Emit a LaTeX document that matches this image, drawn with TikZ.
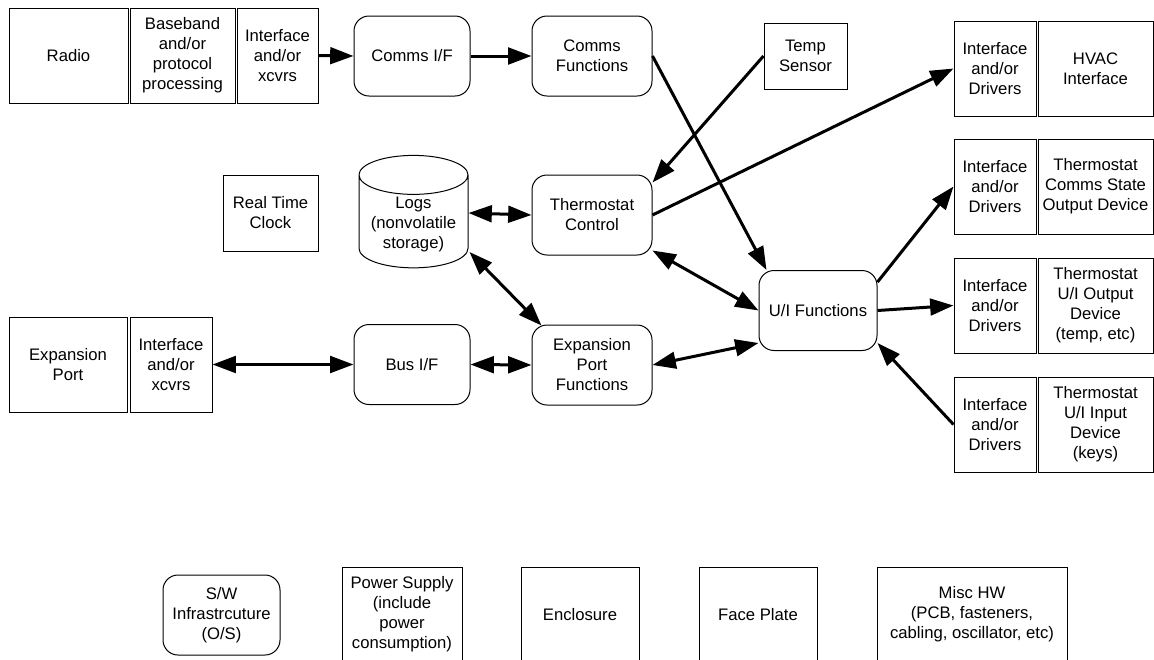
\documentclass[tikz,border=0pt]{standalone}
\usepackage{fontspec}
\setmainfont{Liberation Sans}
\usetikzlibrary{arrows.meta,shapes.geometric,calc}

\begin{document}
\begin{tikzpicture}[x=0.6pt,y=-0.6pt,
  font=\fontsize{10}{12}\selectfont,
  blk/.style={draw,line width=0.6pt,align=center,inner sep=1pt},
  fn/.style={blk,rounded corners=9pt,minimum width=72pt,minimum height=48pt},
  drv/.style={blk,minimum width=49.2pt,minimum height=57pt},
  dev/.style={blk,minimum width=69pt,minimum height=57pt},
  hw/.style={blk,minimum width=70.8pt,minimum height=57pt},
  link/.style={line width=1.8pt,-{Triangle[length=14pt,width=10pt]}},
  link2/.style={line width=1.8pt,{Triangle[length=14pt,width=10pt]}-{Triangle[length=14pt,width=10pt]}}]
\useasboundingbox (0,0) rectangle (1154,659);

% radio side
\node[blk,minimum width=71.4pt,minimum height=57pt] (radio) at (68.5,55.5) {Radio};
\node[blk,minimum width=63pt,minimum height=57pt] (baseband) at (182.5,55.5) {Baseband\\and/or\\protocol\\processing};
\node[drv,minimum width=48.6pt] (ifradio) at (277.5,55.5) {Interface\\and/or\\xcvrs};
\node[fn,minimum width=69.6pt] (commsif) at (412,56) {Comms I/F};
\node[fn] (commsfn) at (592,56) {Comms\\Functions};
\node[blk,minimum width=49.8pt,minimum height=39.6pt] (temp) at (805.5,56) {Temp\\Sensor};

% middle
\node[blk,minimum width=57pt,minimum height=45.6pt] (rtc) at (270.5,213) {Real Time\\Clock};
\node[blk,cylinder,shape border rotate=90,aspect=0.44,minimum width=65.4pt,minimum height=58.2pt] (logs) at (413.5,224) {Logs\\(nonvolatile\\storage)};
\node[fn] (tctrl) at (592,215) {Thermostat\\Control};
\node[fn,minimum width=70.8pt] (ui) at (818,310.5) {U/I Functions};

% expansion side
\node[blk,minimum width=70.8pt,minimum height=57pt] (expport) at (68,364.5) {Expansion\\Port};
\node[drv] (ifexp) at (171,364.5) {Interface\\and/or\\xcvrs};
\node[fn,minimum width=69.6pt] (busif) at (412,364.5) {Bus I/F};
\node[fn] (epf) at (592,365) {Expansion\\Port\\Functions};

% outputs
\node[drv] (drvhvac) at (995,68.5) {Interface\\and/or\\Drivers};
\node[dev] (hvac) at (1095.5,68.5) {HVAC\\Interface};
\node[drv] (drvstate) at (995,186.5) {Interface\\and/or\\Drivers};
\node[dev] (state) at (1095.5,186.5) {Thermostat\\Comms State\\Output Device};
\node[drv] (drvout) at (995,305.5) {Interface\\and/or\\Drivers};
\node[dev] (uiout) at (1095.5,305.5) {Thermostat\\U/I Output\\Device\\(temp, etc)};
\node[drv] (drvin) at (995,424.5) {Interface\\and/or\\Drivers};
\node[dev] (uiin) at (1095.5,424.5) {Thermostat\\U/I Input\\Device\\(keys)};

% other items
\node[fn,minimum width=70.2pt] (sw) at (221.5,615) {S/W\\Infrastrcuture\\(O/S)};
\node[hw,minimum width=72pt] (power) at (402,614.5) {Power Supply\\(include\\power\\consumption)};
\node[hw] (encl) at (580,614.5) {Enclosure};
\node[hw] (face) at (758,614.5) {Face Plate};
\node[hw,minimum width=114pt] (misc) at (972,614.5) {Misc HW\\(PCB, fasteners,\\cabling, oscillator, etc)};

\draw[link] (ifradio.east) -- (commsif.west);
\draw[link] (commsif.east) -- (commsfn.west);
\draw[link] (commsfn.east) -- ($(ui.north west)+(8,0)$);
\draw[link] (temp.west) -- ($(tctrl.north east)+(0,8)$);
\draw[link] (tctrl.east) -- (drvhvac.west);
\draw[link2] ($(logs.center)+(55,-11)$) -- (tctrl.west);
\draw[link2] ($(logs.center)+(56,28)$) -- ($(epf.north west)+(10,1)$);
\draw[link2] ($(tctrl.south east)+(0,-5)$) -- (ui.west);
\draw[link2] (epf.east) -- ($(ui.south west)+(0,-8)$);
\draw[link] ($(ui.north east)+(0,12)$) -- (drvstate.west);
\draw[link] (ui.east) -- (drvout.west);
\draw[link] (drvin.west) -- ($(ui.south east)+(0,-8)$);
\draw[link2] (ifexp.east) -- (busif.west);
\draw[link2] (busif.east) -- (epf.west);
\end{tikzpicture}
\end{document}
